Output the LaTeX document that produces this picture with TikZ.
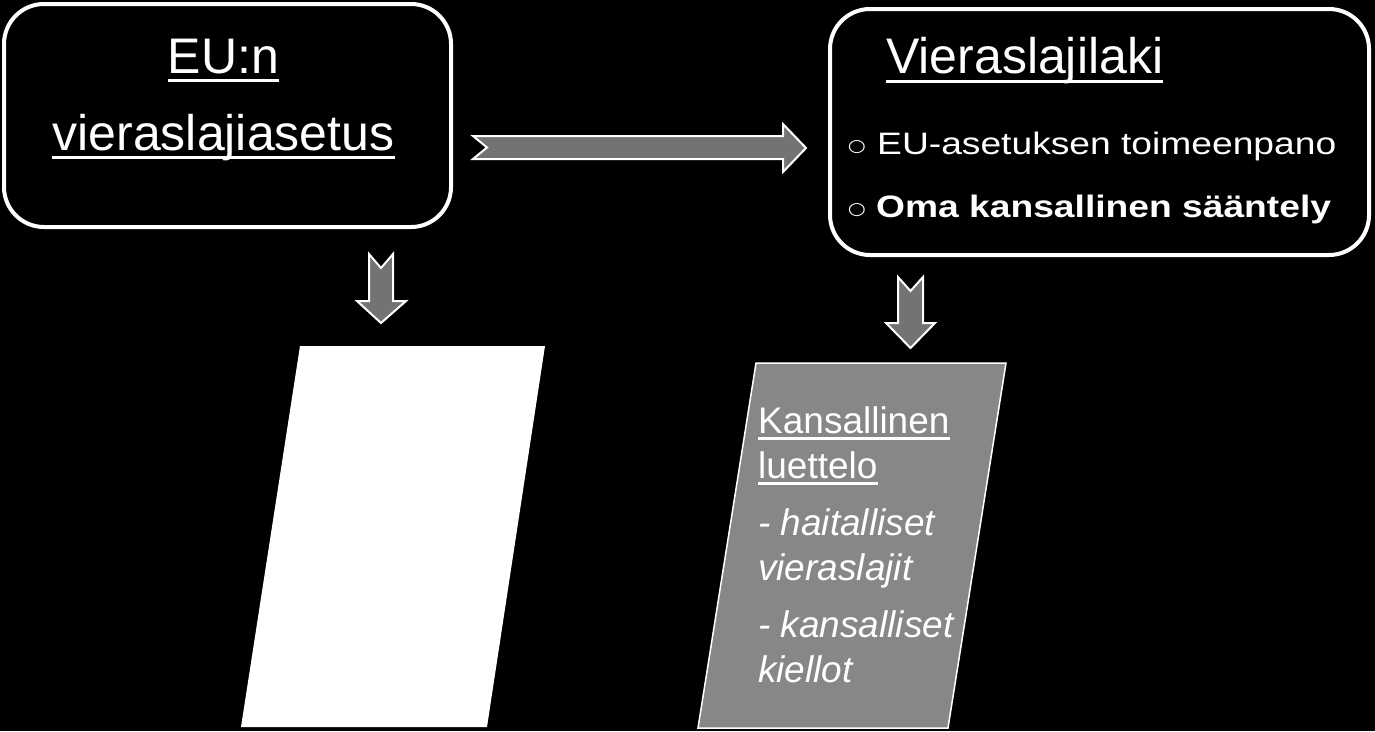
\documentclass[tikz,border=0pt]{standalone}
\usepackage{fontspec}
\setmainfont{Liberation Sans}
\newfontfamily\symfont{DejaVu Sans}
\definecolor{arrowgray}{HTML}{737373}
\definecolor{boxgray}{HTML}{878787}
\begin{document}
\begin{tikzpicture}[x=1pt,y=-1pt,
  roundbox/.style={draw=white, line width=4pt, rounded corners=40pt, fill=black, inner sep=0pt},
  txt/.style={text=white, inner sep=0pt, anchor=base west},
  titlefont/.style={font=\fontsize{50}{60}\selectfont},
  bulletsize/.style={font=\fontsize{31}{37}\selectfont},
  bulletglyph/.style={font=\symfont\fontsize{18}{22}\selectfont},
  listfont/.style={font=\fontsize{37}{44}\selectfont},
  uline/.style={draw=white, line width=3pt},
  thinuline/.style={draw=white, line width=2.5pt},
  blockarrow/.style={fill=arrowgray, draw=white, line width=2pt, line join=miter},
]
\fill[black] (0,0) rectangle (1375,731);
\useasboundingbox (0,0) rectangle (1375,731);

% left box
\node[roundbox, minimum width=447pt, minimum height=223pt] (eubox) at (227.5,115.5) {};
\node[txt, titlefont, anchor=base] (t1) at (223.5,73) {EU:n};
\node[txt, titlefont, anchor=base] (t2) at (223.5,150) {vieraslajiasetus};
\draw[uline] ([yshift=-7pt]t1.base west) -- ([yshift=-7pt]t1.base east);
\draw[uline] ([yshift=-7pt]t2.base west) -- ([yshift=-7pt]t2.base east);

% right box
\node[roundbox, minimum width=539pt, minimum height=246pt] (lakibox) at (1099.5,132) {};
\node[txt, titlefont] (t3) at (886,73) {Vieraslajilaki};
\draw[uline] ([yshift=-8pt]t3.base west) -- ([yshift=-8pt]t3.base east);
\node[txt, bulletglyph, anchor=center] (b1) at (857,147.5) {\scalebox{1.15}[0.95]{○}};
\node[txt, bulletsize] (l1) at (877,154) {\scalebox{1.2}[1]{EU-asetuksen toimeenpano}};
\node[txt, bulletglyph, anchor=center] (b2) at (857,210.5) {\scalebox{1.15}[0.95]{○}};
\node[txt, bulletsize] (l2) at (876,217) {\scalebox{1.2}[1]{\bfseries Oma kansallinen sääntely}};

% horizontal block arrow
\draw[blockarrow] (473,136) -- (783,136) -- (783,124) -- (806,148) -- (783,172) -- (783,159) -- (473,159) -- (487,147.5) -- cycle;

% down block arrows
\draw[blockarrow] (369,254) -- (381,268) -- (393,254) -- (393,301) -- (406,301) -- (381,323) -- (357,301) -- (369,301) -- cycle;
\draw[blockarrow] (898,277) -- (910.5,291) -- (923,277) -- (923,323) -- (935,323) -- (910.5,348) -- (886,323) -- (898,323) -- cycle;

% white parallelogram
\fill[white] (300,346) -- (545,346) -- (487,727) -- (241,727) -- cycle;

% gray parallelogram
\draw[fill=boxgray, draw=white, line width=1.5pt] (756,363) -- (1006,363) -- (948,728) -- (698,728) -- cycle;

\node[txt, listfont] (k1) at (758,433) {Kansallinen};
\node[txt, listfont] (k2) at (758,478) {luettelo};
\draw[thinuline] ([yshift=-5.5pt]k1.base west) -- ([yshift=-5.5pt]k1.base east);
\draw[thinuline] ([yshift=-5.5pt]k2.base west) -- ([yshift=-5.5pt]k2.base east);
\node[txt, listfont] (k3) at (758,535) {\itshape - haitalliset};
\node[txt, listfont] (k4) at (758,580) {\itshape vieraslajit};
\node[txt, listfont] (k5) at (758,637) {\itshape - kansalliset};
\node[txt, listfont] (k6) at (758,682) {\itshape kiellot};
\end{tikzpicture}
\end{document}
